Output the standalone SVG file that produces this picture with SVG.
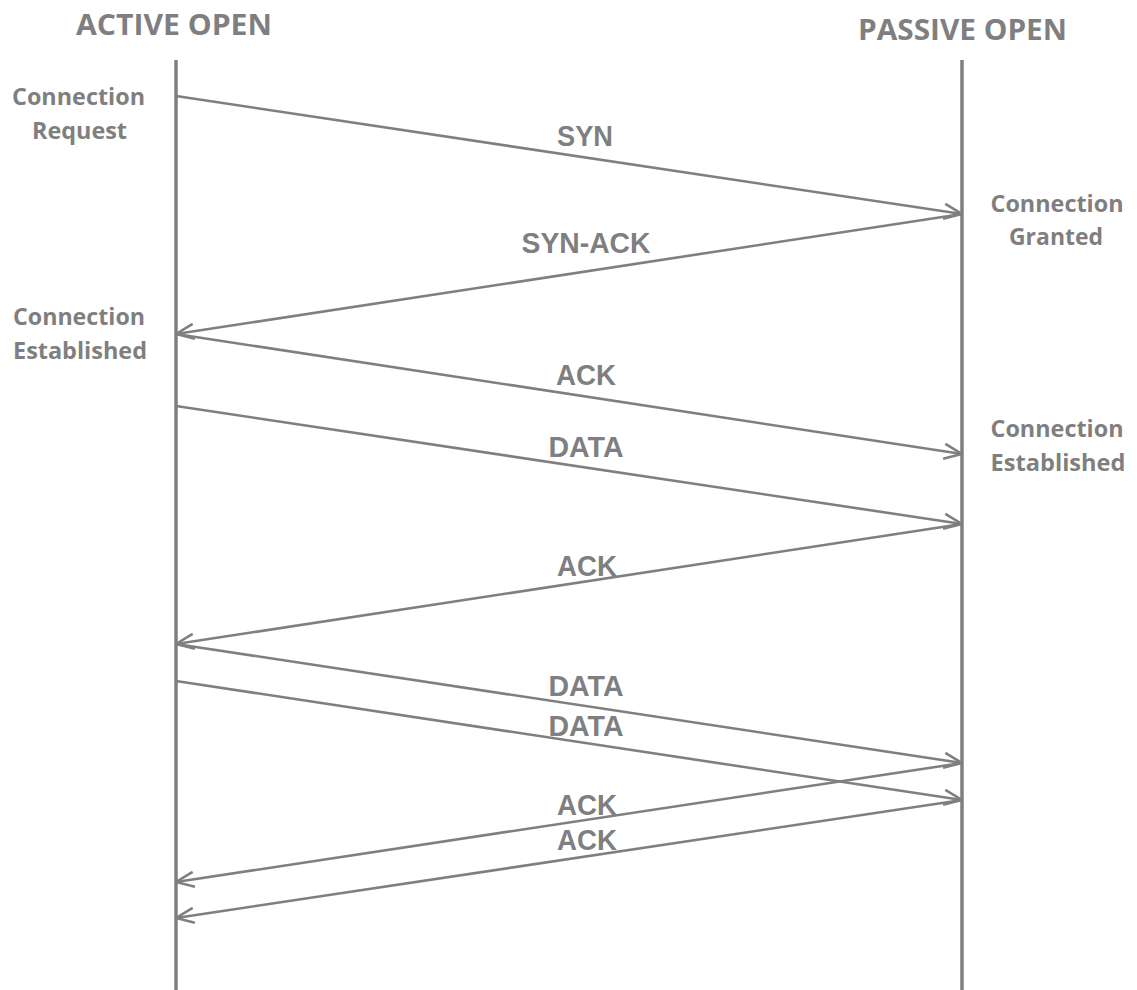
<svg xmlns="http://www.w3.org/2000/svg" width="1137" height="990" viewBox="0 0 1137 990">
<defs>
<style>
.t{font-family:"Open Sans","Liberation Sans",sans-serif;font-weight:bold;fill:#7f7f7f;text-anchor:middle}
.h{font-size:29px}
.n{font-size:23px}
.m{font-family:"Liberation Sans","Open Sans",sans-serif;font-size:29px}
.life{stroke:#7f7f7f;stroke-width:3.5;fill:none}
.msg{stroke:#7f7f7f;stroke-width:2.6;fill:none;marker-end:url(#arr)}
</style>
<marker id="arr" viewBox="0 0 20 18" refX="19" refY="9" markerWidth="20" markerHeight="18" markerUnits="userSpaceOnUse" orient="auto">
<path d="M1,1.5 L19,9 L1,16.5" fill="none" stroke="#7f7f7f" stroke-width="2.6"/>
</marker>
</defs>
<rect width="1137" height="990" fill="#ffffff"/>
<g id="active">
<line class="life" x1="176" y1="60" x2="176" y2="990"/>
<text class="t h" x="174" y="35" textLength="196" lengthAdjust="spacingAndGlyphs">ACTIVE OPEN</text>
</g>
<g id="passive">
<line class="life" x1="962" y1="60" x2="962" y2="990"/>
<text class="t h" x="962.5" y="40" textLength="209" lengthAdjust="spacingAndGlyphs">PASSIVE OPEN</text>
</g>
<g id="note-request">
<text class="t n" x="78.5" y="105" textLength="133" lengthAdjust="spacingAndGlyphs">Connection</text>
<text class="t n" x="79.5" y="139" textLength="95" lengthAdjust="spacingAndGlyphs">Request</text>
</g>
<g id="note-granted">
<text class="t n" x="1057" y="212" textLength="133" lengthAdjust="spacingAndGlyphs">Connection</text>
<text class="t n" x="1056" y="245" textLength="94" lengthAdjust="spacingAndGlyphs">Granted</text>
</g>
<g id="note-established-left">
<text class="t n" x="79" y="325" textLength="132" lengthAdjust="spacingAndGlyphs">Connection</text>
<text class="t n" x="80" y="359" textLength="134" lengthAdjust="spacingAndGlyphs">Established</text>
</g>
<g id="note-established-right">
<text class="t n" x="1057" y="437" textLength="133" lengthAdjust="spacingAndGlyphs">Connection</text>
<text class="t n" x="1058" y="471" textLength="135" lengthAdjust="spacingAndGlyphs">Established</text>
</g>
<g id="connectors">
<line class="msg" x1="176" y1="96" x2="962" y2="214"/>
<line class="msg" x1="962" y1="214" x2="176" y2="334"/>
<line class="msg" x1="176" y1="334" x2="962" y2="454"/>
<line class="msg" x1="176" y1="406" x2="962" y2="524"/>
<line class="msg" x1="962" y1="524" x2="176" y2="644"/>
<line class="msg" x1="176" y1="644" x2="962" y2="763"/>
<line class="msg" x1="176" y1="681" x2="962" y2="800"/>
<line class="msg" x1="962" y1="763" x2="176" y2="882"/>
<line class="msg" x1="962" y1="800" x2="176" y2="918"/>
</g>
<g id="labels">
<text class="t m" x="585" y="146" textLength="56" lengthAdjust="spacingAndGlyphs">SYN</text>
<text class="t m" x="586" y="253" textLength="129" lengthAdjust="spacingAndGlyphs">SYN-ACK</text>
<text class="t m" x="586" y="385" textLength="60" lengthAdjust="spacingAndGlyphs">ACK</text>
<text class="t m" x="586" y="457" textLength="75" lengthAdjust="spacingAndGlyphs">DATA</text>
<text class="t m" x="587" y="576" textLength="60" lengthAdjust="spacingAndGlyphs">ACK</text>
<text class="t m" x="586" y="696" textLength="75" lengthAdjust="spacingAndGlyphs">DATA</text>
<text class="t m" x="586" y="736" textLength="75" lengthAdjust="spacingAndGlyphs">DATA</text>
<text class="t m" x="587" y="815" textLength="60" lengthAdjust="spacingAndGlyphs">ACK</text>
<text class="t m" x="587" y="850" textLength="60" lengthAdjust="spacingAndGlyphs">ACK</text>
</g>
</svg>
